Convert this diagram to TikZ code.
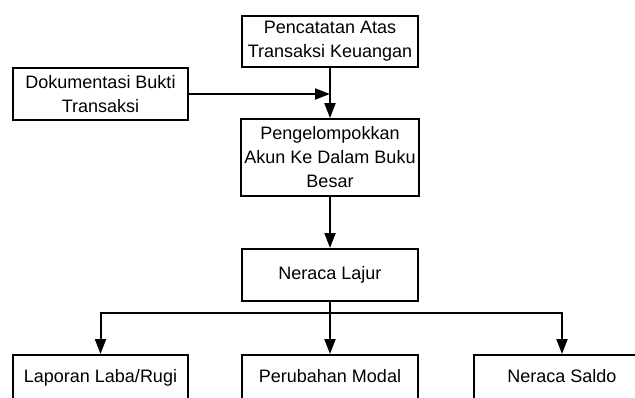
\documentclass[tikz,border=0pt]{standalone}
\usepackage{fontspec}
\setmainfont{Liberation Sans}
\usepackage{tikz}
\usetikzlibrary{arrows.meta,positioning,shapes}

\begin{document}
\begin{tikzpicture}
[x=1pt,y=-1pt]
\tikzset{
	box/.style = {rectangle, draw, line width=2pt, minimum width=176pt, minimum height=52pt, inner sep=3pt, align=center, font=\fontsize{18}{24}\selectfont},
	tall/.style = {box, minimum height=77pt},
	report/.style = {box, minimum height=46pt, text height=13pt, text depth=4pt},
	flow/.style = {line width=2pt, -{Triangle[length=15pt,width=11pt]}},
	plain/.style = {line width=2pt}
}
\useasboundingbox (0,0) rectangle (635,397);
\clip (0,0) rectangle (635,397);

% main column
\node(catat) [box, minimum height=51pt] at (330,41.5) {Pencatatan Atas\\Transaksi Keuangan};
\node(dok) [box, minimum width=175pt, below left=-1pt and 52pt of catat.south west] {Dokumentasi Bukti\\Transaksi};
\node(akun) [tall, below=50pt of catat] {Pengelompokkan\\Akun Ke Dalam Buku\\Besar};
\node(lajur) [box, below=51pt of akun] {Neraca Lajur};

% reports
\node(modal) [report, below=52pt of lajur] {Perubahan Modal};
\node(labarugi) [report, minimum width=175pt, left=52pt of modal] {Laporan Laba/Rugi};
\node(saldo) [report, right=54pt of modal] {Neraca Saldo};

\coordinate(join) at (catat.south |- dok.east);
\coordinate(split) at (330,313);

\draw [flow] (catat) to (akun);
\draw [flow] (dok.east) to (join);
\draw [flow] (akun) to (lajur);
\draw [plain] (lajur.south) to (split);
\draw [flow] (split) to (modal.north);
\draw [flow] (split) -| (labarugi.north);
\draw [flow] (split) -| (saldo.north);
\end{tikzpicture}
\end{document}
